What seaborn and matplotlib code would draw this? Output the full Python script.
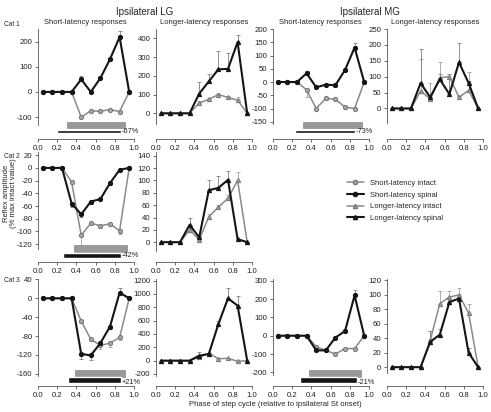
import numpy as np
import seaborn as sns
import matplotlib.pyplot as plt
from matplotlib.lines import Line2D

phase = [0.05, 0.15, 0.25, 0.35, 0.45, 0.55, 0.65, 0.75, 0.85, 0.95]

# Cat 1 - LG
c1_lg_short_int = [0, 0, 0, 0, -100, -75, -77, -70, -78, 0]
c1_lg_short_int_err = [0, 0, 0, 0, -3, -4, -3, -4, -4, 0]
c1_lg_short_spi = [0, 0, 0, 0, 50, 0, 55, 130, 218, 0]
c1_lg_short_spi_err = [0, 0, 0, 0, 15, 2, 6, 5, 25, 0]
c1_lg_long_int = [0, 0, 0, 0, 55, 75, 100, 85, 70, 0]
c1_lg_long_int_err = [0, 0, 0, 0, 12, 5, 10, 7, 15, 0]
c1_lg_long_spi = [0, 0, 0, 0, 105, 170, 235, 237, 380, 0]
c1_lg_long_spi_err = [0, 0, 0, 0, 60, 40, 95, 85, 40, 0]
# Cat 1 - MG
c1_mg_short_int = [0, 0, 0, -30, -100, -62, -65, -95, -100, 0]
c1_mg_short_int_err = [0, 0, 0, -25, -4, -4, -4, -5, -4, 0]
c1_mg_short_spi = [0, 0, 0, 33, -20, -10, -12, 45, 130, 0]
c1_mg_short_spi_err = [0, 0, 0, 10, 3, 3, -5, 5, 18, 0]
c1_mg_long_int = [0, 0, 0, 55, 30, 97, 100, 35, 57, 0]
c1_mg_long_int_err = [0, 0, 0, 100, 50, 50, 8, 5, 58, 0]
c1_mg_long_spi = [0, 0, 0, 80, 35, 92, 45, 145, 80, 0]
c1_mg_long_spi_err = [0, 0, 0, 108, 5, 16, 65, 62, 5, 0]
# Cat 2 - LG
c2_lg_short_int = [0, 0, 0, -22, -106, -87, -91, -88, -99, 0]
c2_lg_short_int_err = [0, 0, 0, -3, -17, -3, -3, -3, -5, 0]
c2_lg_short_spi = [0, 0, 0, -56, -73, -53, -49, -24, -3, 0]
c2_lg_short_spi_err = [0, 0, 0, -6, -5, -3, -2, -3, -2, 0]
c2_lg_long_int = [0, 0, 0, 20, 4, 41, 57, 71, 100, 0]
c2_lg_long_int_err = [0, 0, 0, 3, 2, 4, 4, 5, 13, 0]
c2_lg_long_spi = [0, 0, 0, 28, 8, 84, 88, 101, 5, 0]
c2_lg_long_spi_err = [0, 0, 0, 11, 2, 17, 19, 15, 0, 0]
# Cat 3 - LG
c3_lg_short_int = [0, 0, 0, 0, -48, -87, -100, -95, -83, 0]
c3_lg_short_int_err = [0, 0, 0, 0, -5, -4, -7, -8, -5, 0]
c3_lg_short_spi = [0, 0, 0, 0, -118, -121, -95, -60, 12, 0]
c3_lg_short_spi_err = [0, 0, 0, 0, -10, -10, -5, -5, 10, 0]
c3_lg_long_int = [0, 0, 0, 0, 50, 110, 30, 35, -10, 0]
c3_lg_long_int_err = [0, 0, 0, 0, 10, 10, 5, 5, -5, 0]
c3_lg_long_spi = [0, 0, 0, 0, 75, 100, 550, 935, 825, 0]
c3_lg_long_spi_err = [0, 0, 0, 0, 55, 20, 50, 160, 150, 0]
# Cat 3 - MG
c3_mg_short_int = [0, 0, 0, 0, -60, -80, -100, -70, -70, 0]
c3_mg_short_int_err = [0, 0, 0, 0, -12, -5, -5, -5, -5, 0]
c3_mg_short_spi = [0, 0, 0, 0, -80, -80, -10, 25, 220, 0]
c3_mg_short_spi_err = [0, 0, 0, 0, -5, -5, 5, 5, 28, 0]
c3_mg_long_int = [0, 0, 0, 0, 37, 88, 97, 100, 75, 0]
c3_mg_long_int_err = [0, 0, 0, 0, 13, 17, 9, 10, 12, 0]
c3_mg_long_spi = [0, 0, 0, 0, 35, 45, 90, 95, 20, 0]
c3_mg_long_spi_err = [0, 0, 0, 0, 15, 8, 4, 3, 7, 0]

# burst bars under short-latency panels: (intact start, end), (spinal start, end), change
c1_lg_bars = [(0.305, 0.91), (0.20, 0.86), "-67%"]
c1_mg_bars = [(0.315, 0.93), (0.23, 0.85), "-73%"]
c2_lg_bars = [(0.375, 0.93), (0.257, 0.86), "-42%"]
c3_lg_bars = [(0.385, 0.905), (0.315, 0.86), "+21%"]
c3_mg_bars = [(0.375, 0.92), (0.285, 0.87), "-21%"]

sns.set_style("ticks")
plt.rcParams['font.family'] = ['Liberation Sans', 'DejaVu Sans']
plt.rcParams['axes.unicode_minus'] = False

GRAY = '#8a8a8a'
BLACK = '#151515'
AXC = '#555555'

W, H = 491, 412
fig = plt.figure(figsize=(W / 100, H / 100), dpi=100)

col_left = [38, 156, 273, 387]
row_top = [29, 152, 279]
row_axis = [139, 262, 386]
# bar layout per row: (gray center, gray height, black center, black height, label y) in axes fraction
bar_geom = [(0.127, 0.055, 0.064, 0.027, 0.064),
            (0.125, 0.060, 0.059, 0.040, 0.059),
            (0.119, 0.062, 0.056, 0.062, 0.035)]

panels = [
    # row, col, intact, intact err, spinal, spinal err, marker, ylim, spine low, ticks, bars
    (0, 0, c1_lg_short_int, c1_lg_short_int_err, c1_lg_short_spi, c1_lg_short_spi_err, 'o',
     (-187, 250), -130, np.arange(-100, 201, 100), c1_lg_bars),
    (0, 1, c1_lg_long_int, c1_lg_long_int_err, c1_lg_long_spi, c1_lg_long_spi_err, '^',
     (-137, 450), -55, np.arange(0, 401, 100), None),
    (0, 2, c1_mg_short_int, c1_mg_short_int_err, c1_mg_short_spi, c1_mg_short_spi_err, 'o',
     (-215, 200), -160, np.arange(-150, 201, 50), c1_mg_bars),
    (0, 3, c1_mg_long_int, c1_mg_long_int_err, c1_mg_long_spi, c1_mg_long_spi_err, '^',
     (-96, 250), -45, np.arange(0, 251, 50), None),
    (1, 0, c2_lg_short_int, c2_lg_short_int_err, c2_lg_short_spi, c2_lg_short_spi_err, 'o',
     (-148, 25), -128, np.arange(-120, 21, 20), c2_lg_bars),
    (1, 1, c2_lg_long_int, c2_lg_long_int_err, c2_lg_long_spi, c2_lg_long_spi_err, '^',
     (-32, 146), -15, np.arange(0, 141, 20), None),
    (2, 0, c3_lg_short_int, c3_lg_short_int_err, c3_lg_short_spi, c3_lg_short_spi_err, 'o',
     (-186, 41), -165, np.arange(-160, 41, 40), c3_lg_bars),
    (2, 1, c3_lg_long_int, c3_lg_long_int_err, c3_lg_long_spi, c3_lg_long_spi_err, '^',
     (-380, 1225), -230, np.arange(-200, 1201, 200), None),
    (2, 2, c3_mg_short_int, c3_mg_short_int_err, c3_mg_short_spi, c3_mg_short_spi_err, 'o',
     (-274, 309), -215, np.arange(-200, 301, 100), c3_mg_bars),
    (2, 3, c3_mg_long_int, c3_mg_long_int_err, c3_mg_long_spi, c3_mg_long_spi_err, '^',
     (-26, 122), -8, np.arange(0, 121, 20), None),
]


def one_sided(err):
    err = np.asarray(err, dtype=float)
    return [np.where(err < 0, -err, 0), np.where(err > 0, err, 0)]


for r, c, yi, ei, ys, es, mk, ylim, lo, ticks, bars in panels:
    ax = fig.add_axes([col_left[c] / W, 1 - row_axis[r] / H, 96 / W,
                       (row_axis[r] - row_top[r]) / H])
    ax.patch.set_alpha(0)
    ax.errorbar(phase, yi, yerr=one_sided(ei), fmt='none', ecolor='#a0a0a0',
                elinewidth=0.6, capsize=1.5, capthick=0.6)
    ax.errorbar(phase, ys, yerr=one_sided(es), fmt='none', ecolor='#808080',
                elinewidth=0.6, capsize=1.5, capthick=0.6)
    sns.lineplot(x=phase, y=yi, ax=ax, color=GRAY, marker=mk, markersize=3,
                 markeredgecolor='#777777', markerfacecolor='#aaaaaa', linewidth=1.1)
    sns.lineplot(x=phase, y=ys, ax=ax, color=BLACK, marker=mk, markersize=3,
                 markeredgecolor=BLACK, linewidth=1.5)
    if bars is not None:
        g_c, g_h, b_c, b_h, t_y = bar_geom[r]
        tr = ax.get_xaxis_transform()
        (g0, g1), (b0, b1), txt = bars
        ax.barh([g_c], [g1 - g0], left=[g0], height=g_h, color='#999999',
                edgecolor='#777777', linewidth=0.4, transform=tr)
        ax.barh([b_c], [b1 - b0], left=[b0], height=b_h, color=BLACK,
                transform=tr)
        ax.text(b1 + 0.015, t_y, txt, transform=tr, fontsize=5.3,
                va='center', ha='left', color='#222222')
    ax.set_xlim(0, 1)
    ax.set_ylim(*ylim)
    ax.set_yticks(ticks)
    ax.set_xticks(np.arange(0, 1.01, 0.2))
    ax.set_xticklabels([f"{v:.1f}" for v in np.arange(0, 1.01, 0.2)])
    ax.spines['top'].set_visible(False)
    ax.spines['right'].set_visible(False)
    ax.spines['left'].set_bounds(lo, ylim[1])
    for s in ('left', 'bottom'):
        ax.spines[s].set_color(AXC)
        ax.spines[s].set_linewidth(0.6)
    ax.tick_params(labelsize=5.6, length=2, width=0.6, color=AXC,
                   labelcolor='#222222', pad=2)
    ax.set_xlabel('')
    ax.set_ylabel('')

# titles
fig.text(145 / W, 1 - 12 / H, "Ipsilateral LG", ha='center', va='center', fontsize=7)
fig.text(370 / W, 1 - 12 / H, "Ipsilateral MG", ha='center', va='center', fontsize=7)
for x, t in [(85, "Short-latency responses"), (204, "Longer-latency responses"),
             (320, "Short-latency responses"), (435, "Longer-latency responses")]:
    fig.text(x / W, 1 - 23 / H, t, ha='center', va='center', fontsize=5.5)
for y, t in [(24, "Cat 1"), (156, "Cat 2"), (280, "Cat 3")]:
    fig.text(4 / W, 1 - y / H, t, ha='left', va='center', fontsize=4.8)

fig.text(10 / W, 1 - 193 / H, "Reflex amplitude\n(% max intact value)", rotation=90,
         ha='center', va='center', fontsize=5.5, linespacing=1.1)
fig.text(275 / W, 1 - 405 / H, "Phase of step cycle (relative to ipsilateral St onset)",
         ha='center', va='center', fontsize=5.5)

handles = [
    Line2D([], [], color=GRAY, marker='o', markersize=3, markeredgecolor='#777777',
           markerfacecolor='#aaaaaa', linewidth=1.1),
    Line2D([], [], color=BLACK, marker='o', markersize=3, linewidth=1.5),
    Line2D([], [], color=GRAY, marker='^', markersize=3, markeredgecolor='#777777',
           markerfacecolor='#aaaaaa', linewidth=1.1),
    Line2D([], [], color=BLACK, marker='^', markersize=3, linewidth=1.5),
]
labels = ["Short-latency intact", "Short-latency spinal",
          "Longer-latency intact", "Longer-latency spinal"]
fig.legend(handles, labels, loc='upper left', bbox_to_anchor=(343 / W, 1 - 176 / H),
           frameon=False, fontsize=5.5, handlelength=2.2, handletextpad=0.8,
           labelspacing=0.55, borderpad=0)

fig.savefig("out.png", dpi=100)
